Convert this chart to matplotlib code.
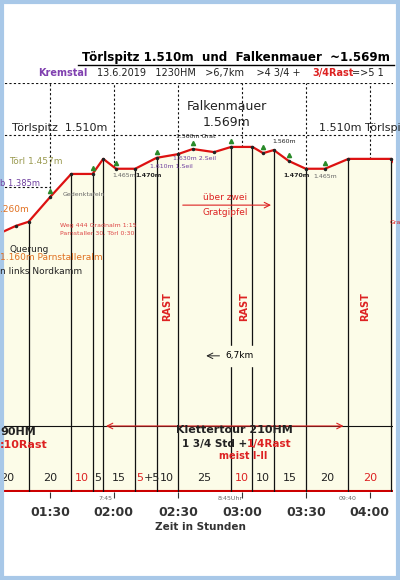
import matplotlib
matplotlib.use("Agg")
import matplotlib.pyplot as plt
import numpy as np

# profile (minutes, metres)
prof_t = [66, 74, 80, 90, 100, 110, 115, 121, 130, 140, 150, 157, 167, 175, 185, 190, 195, 202, 210, 219, 230, 250, 254]
prof_m = [1310, 1325, 1333, 1380, 1425, 1425, 1454, 1435, 1435, 1456, 1463, 1473, 1467, 1477, 1477, 1465, 1471, 1450, 1435, 1435, 1454, 1454, 1430]
bounds = [80, 100, 110, 115, 130, 140, 150, 175, 185, 195, 210, 230, 250]
dur_x = [70, 90, 105, 112.5, 122.5, 135, 145, 162.5, 180, 190, 202.5, 220, 240]
dur_lab = ["20", "20", "10", "5", "15", "5+5", "10", "25", "10", "10", "15", "20", "20"]
dur_red = [False, False, True, False, False, None, False, False, True, False, False, False, True]
ticks = [90, 120, 150, 180, 210, 240]
tick_lab = ["01:30", "02:00", "02:30", "03:00", "03:30", "04:00"]

X0, X1 = 66.6, 250.9
Y0, Y1 = 813, 1600

fig = plt.figure(figsize=(4, 5.8), dpi=100)
ax = fig.add_axes([0, 88/580, 393/400, (492-83)/580])
ax.set_xlim(X0, X1); ax.set_ylim(Y0, Y1)
for s in ax.spines.values(): s.set_visible(False)
ax.axhline(Y0 + 2, color="#cc0000", lw=1.5)
ax.fill_between(prof_t, prof_m, Y0, color="#fcfce8", zorder=0)
ax.plot(prof_t, prof_m, color="#dd1111", lw=1.6, zorder=3)
ax.plot(prof_t, prof_m, "o", color="#222222", ms=1.5, zorder=4)
ax.plot(prof_t[3:20:2], np.array(prof_m[3:20:2]) + 12, "^", color="#2a8a2a", ms=3, zorder=4)
for b in bounds:
    ax.plot([b, b], [Y0, np.interp(b, prof_t, prof_m)], color="#111111", lw=0.9, zorder=2)
for t in ticks:
    ax.plot([t, t], [np.interp(t, prof_t, prof_m), Y1], color="#111111", lw=0.8, ls=(0, (2, 2)), zorder=2)
ax.axhline(1600, color="#111111", lw=0.8, ls=(0, (2, 2)))
ax.axhline(1500, color="#111111", lw=0.8, ls=(0, (2, 2)))
ax.plot([X0, 90], [1400, 1400], color="#111111", lw=0.8, ls=(0, (2, 2)))
ax.set_xticks(ticks)
ax.set_xticklabels(tick_lab, fontsize=9, fontweight="bold", color="#333333")
ax.tick_params(axis="x", length=4, color="#333333", pad=6)
ax.set_yticks([])
for x, s, r in zip(dur_x, dur_lab, dur_red):
    if r is None:
        ax.text(x - 1.2, 835, "5", color="#dd2222", fontsize=8, ha="right")
        ax.text(x - 1.2, 835, "+5", color="#222222", fontsize=8, ha="left")
    else:
        ax.text(x, 835, s, color="#dd2222" if r else "#222222", fontsize=8, ha="center")
# HM line
ax.axhline(940, color="#111111", lw=0.8)
ax.annotate("", xy=(115, 940), xytext=(229, 940), arrowprops=dict(arrowstyle="<->", color="#dd2222", lw=0.8))
for x in [145, 181, 238]:
    ax.text(x, 1170, "RAST", color="#dd2222", fontsize=7, rotation=90, ha="center", va="center", fontweight="bold")
ax.annotate("", xy=(162, 1075), xytext=(187, 1075), arrowprops=dict(arrowstyle="<->", color="#222222", lw=0.7))
ax.text(179, 1075, "6,7km", fontsize=6.5, ha="center", va="center", backgroundcolor="#fcfce8")
ax.annotate("", xy=(195, 1365), xytext=(151, 1365), arrowprops=dict(arrowstyle="->", color="#dd2222", lw=0.8))

def T(x, y, s, **k):
    k.setdefault("fontsize", 6)
    k.setdefault("va", "center")
    fig.text(x/400, 1 - y/580, s, **k)

T(236, 57, "Törlspitz 1.510m  und  Falkenmauer  ~1.569m", fontsize=8.6, fontweight="bold", ha="center")
fig.lines.append(plt.Line2D([78/400, 394/400], [1-65/580]*2, color="k", lw=1, transform=fig.transFigure))
T(38, 73, "Kremstal", color="#8040b0", fontsize=7, fontweight="bold")
T(97, 73, "13.6.2019   1230HM   >6,7km    >4 3/4 +", color="#222222", fontsize=7)
T(312, 73, "3/4Rast", color="#dd2222", fontsize=7, fontweight="bold")
T(352, 73, "=>5 1", color="#222222", fontsize=7)
T(227, 107, "Falkenmauer", fontsize=9, ha="center", color="#222222")
T(227, 122, "1.569m", fontsize=9, ha="center", color="#222222")
T(12, 128, "Törlspitz  1.510m", fontsize=8, color="#222222")
T(319, 128, "1.510m Törlspitz", fontsize=8, color="#222222")
T(9, 162, "Törl 1.457m", fontsize=6.5, color="#9a9a50")
T(0, 183, "b 1.385m", fontsize=6, color="#7040a0")
T(0, 209, ".260m", fontsize=6.5, color="#e07020")
T(10, 249, "Querung", fontsize=6.5, color="#222222")
T(0, 258, "1.160m Parnstalleralm", fontsize=6.5, color="#e07020")
T(0, 272, "n links Nordkamm", fontsize=6.5, color="#222222")
T(63, 194, "Gedenktafeln", fontsize=4.5, color="#666666")
T(60, 225, "Weg 444 Gradnalm 1:15", fontsize=4.5, color="#dd4444")
T(60, 233, "Parnstaller 30, Törl 0:30", fontsize=4.5, color="#dd4444")
T(112, 176, "1.465m", fontsize=4.5, color="#666666")
T(135, 176, "1.470m", fontsize=4.5, color="#222222", fontweight="bold")
T(283, 176, "1.470m", fontsize=4.5, color="#222222", fontweight="bold")
T(313, 177, "1.465m", fontsize=4.5, color="#666666")
T(176, 137, "1.560m Grat", fontsize=4.5, color="#222222")
T(272, 142, "1.560m", fontsize=4.5, color="#222222")
T(150, 166, "1.610m 1.Seil", fontsize=4.5, color="#7040a0")
T(173, 159, "1.630m 2.Seil", fontsize=4.5, color="#7040a0")
T(203, 198, "über zwei", fontsize=6.5, color="#dd2222")
T(203, 212, "Gratgipfel", fontsize=6.5, color="#dd2222")
T(390, 222, "Gra", fontsize=4.5, color="#dd2222")
T(0, 432, "90HM", fontsize=8, fontweight="bold", color="#222222")
T(0, 445, ":10Rast", fontsize=8, fontweight="bold", color="#dd2222")
T(234, 430, "Klettertour 210HM", fontsize=8, fontweight="bold", ha="center", color="#222222")
T(182, 444, "1 3/4 Std +", fontsize=7.5, fontweight="bold", color="#222222")
T(247, 444, "1/4Rast", fontsize=7.5, fontweight="bold", color="#dd2222")
T(219, 456, "meist I-II", fontsize=7, fontweight="bold", color="#dd2222")
T(98, 498, "7:45", fontsize=4.5, color="#666666")
T(218, 498, "8:45Uhr", fontsize=4.5, color="#666666")
T(339, 498, "09:40", fontsize=4.5, color="#666666")
T(200, 527, "Zeit in Stunden", fontsize=7.5, fontweight="bold", ha="center", color="#333333")
fig.patches.append(plt.Rectangle((0.004, 0.003), 0.992, 0.994, fill=False, ec="#a8c8e8", lw=3, transform=fig.transFigure))
fig.savefig("out.png")
